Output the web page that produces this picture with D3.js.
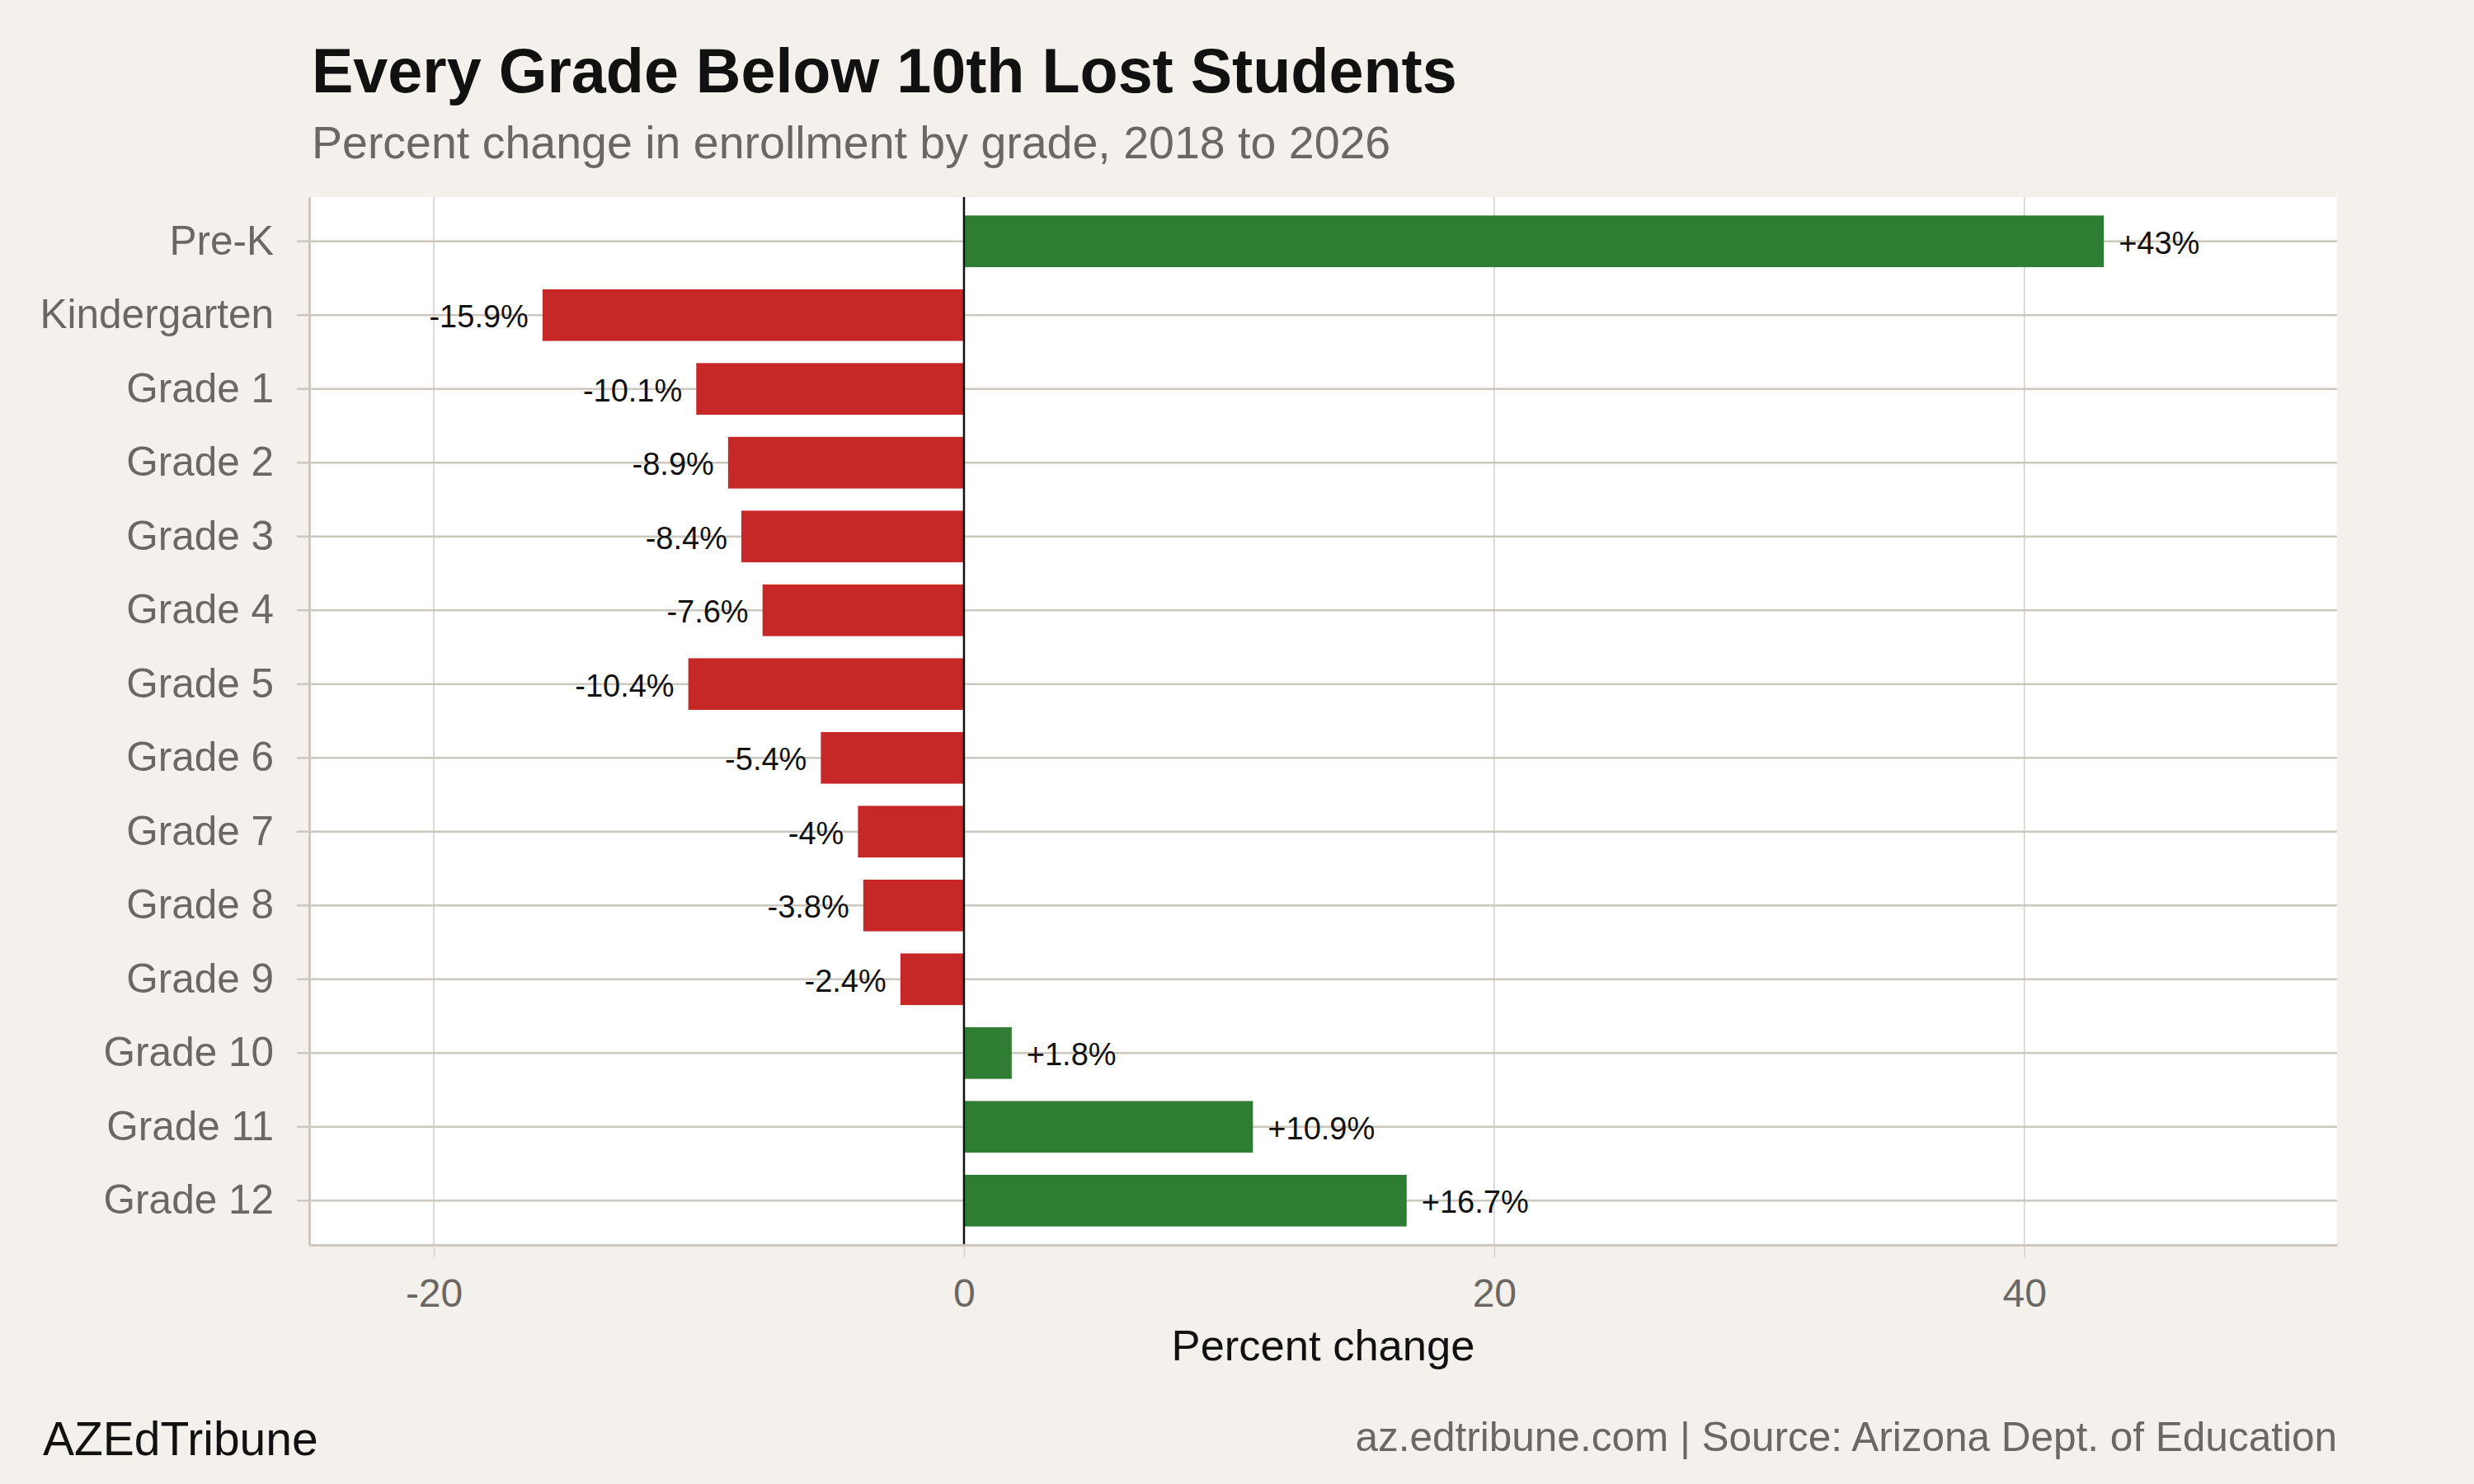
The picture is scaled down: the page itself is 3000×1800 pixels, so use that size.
<!DOCTYPE html>
<html>
<head>
<meta charset="utf-8">
<script src="https://cdn.jsdelivr.net/npm/d3@7"></script>
<style>
  body { margin: 0; background: #f4f1ec; }
  text { font-family: "Liberation Sans", Arial, Helvetica, sans-serif; }
</style>
</head>
<body>
<div id="chart"></div>
<script>
// grades, top to bottom
var grades = ["Pre-K", "Kindergarten", "Grade 1", "Grade 2", "Grade 3", "Grade 4",
              "Grade 5", "Grade 6", "Grade 7", "Grade 8", "Grade 9", "Grade 10",
              "Grade 11", "Grade 12"];
// percent change 2018 -> 2026
var pctChange = [43, -15.9, -10.1, -8.9, -8.4, -7.6, -10.4, -5.4, -4, -3.8, -2.4, 1.8, 10.9, 16.7];
var xTicks = [-20, 0, 20, 40];

var W = 3000, H = 1800;
var margin = { left: 375, right: 166, top: 239, bottom: 290 };

var svg = d3.select("#chart")
    .append("svg")
    .attr("width", W)
    .attr("height", H);

svg.append("rect")
    .attr("width", W)
    .attr("height", H)
    .attr("fill", "#f4f1ec");

var x = d3.scaleLinear()
    .domain([-24.7, 51.8])
    .range([margin.left, W - margin.right]);

var y = d3.scaleBand()
    .domain(grades)
    .range([margin.top, H - margin.bottom])
    .paddingInner(0.3)
    .paddingOuter(0.25);

var bottom = H - margin.bottom;

// panel
svg.append("rect")
    .attr("x", margin.left)
    .attr("y", margin.top)
    .attr("width", W - margin.left - margin.right)
    .attr("height", bottom - margin.top)
    .attr("fill", "#ffffff");

// vertical grid
svg.append("g")
    .selectAll("line")
    .data(xTicks)
    .join("line")
    .attr("x1", d => x(d)).attr("x2", d => x(d))
    .attr("y1", margin.top).attr("y2", bottom)
    .attr("stroke", "#d3cfc9")
    .attr("stroke-width", 1.5);

// horizontal grid
svg.append("g")
    .selectAll("line")
    .data(grades)
    .join("line")
    .attr("x1", margin.left).attr("x2", W - margin.right)
    .attr("y1", d => y(d) + y.bandwidth() / 2)
    .attr("y2", d => y(d) + y.bandwidth() / 2)
    .attr("stroke", "#cdc7be")
    .attr("stroke-width", 2.5);

var rows = grades.map((g, i) => ({ grade: g, v: pctChange[i] }));

// bars
svg.append("g")
    .selectAll("rect")
    .data(rows)
    .join("rect")
    .attr("x", d => x(Math.min(0, d.v)))
    .attr("width", d => Math.abs(x(d.v) - x(0)))
    .attr("y", d => y(d.grade))
    .attr("height", y.bandwidth())
    .attr("fill", d => d.v > 0 ? "#2e7d32" : "#c62828");

// value labels
svg.append("g")
    .selectAll("text")
    .data(rows)
    .join("text")
    .attr("x", d => d.v > 0 ? x(d.v) + 18 : x(d.v) - 17)
    .attr("y", d => y(d.grade) + y.bandwidth() / 2 + 2)
    .attr("dominant-baseline", "central")
    .attr("text-anchor", d => d.v > 0 ? "start" : "end")
    .attr("font-size", 38)
    .attr("fill", "#111")
    .text(d => (d.v > 0 ? "+" : "") + d.v + "%");

// zero line
svg.append("line")
    .attr("x1", x(0)).attr("x2", x(0))
    .attr("y1", margin.top).attr("y2", bottom)
    .attr("stroke", "#111")
    .attr("stroke-width", 2.5);

// axes
var xAxis = svg.append("g")
    .attr("transform", "translate(0," + bottom + ")")
    .call(d3.axisBottom(x).tickValues(xTicks).tickSizeInner(15).tickSizeOuter(0)
        .tickPadding(26).tickFormat(d3.format("d")));
xAxis.select(".domain").attr("stroke", "#cdc7be").attr("stroke-width", 3);
xAxis.selectAll(".tick line").attr("stroke", "#d3cfc9").attr("stroke-width", 1.5);
xAxis.selectAll(".tick text")
    .attr("font-size", 48)
    .attr("fill", "#6b6763")
    .text(d => d < 0 ? "-" + Math.abs(d) : d);

var yAxis = svg.append("g")
    .attr("transform", "translate(" + margin.left + ",0)")
    .call(d3.axisLeft(y).tickSizeInner(15).tickSizeOuter(0).tickPadding(28));
yAxis.select(".domain").attr("stroke", "#cdc7be").attr("stroke-width", 3);
yAxis.selectAll(".tick line").attr("stroke", "#cdc7be").attr("stroke-width", 2.5);
yAxis.selectAll(".tick text")
    .attr("font-size", 49.5)
    .attr("fill", "#6b6763");

// titles
svg.append("text")
    .attr("x", 378).attr("y", 112)
    .attr("font-size", 75.5)
    .attr("font-weight", "bold")
    .attr("fill", "#111")
    .text("Every Grade Below 10th Lost Students");

svg.append("text")
    .attr("x", 378).attr("y", 192)
    .attr("font-size", 55.5)
    .attr("fill", "#6b6763")
    .text("Percent change in enrollment by grade, 2018 to 2026");

svg.append("text")
    .attr("x", (margin.left + W - margin.right) / 2).attr("y", 1650)
    .attr("text-anchor", "middle")
    .attr("font-size", 52.5)
    .attr("fill", "#111")
    .text("Percent change");

// footer
svg.append("text")
    .attr("x", 52).attr("y", 1765)
    .attr("font-size", 57)
    .attr("fill", "#111")
    .text("AZEdTribune");

svg.append("text")
    .attr("x", W - margin.right).attr("y", 1760)
    .attr("text-anchor", "end")
    .attr("font-size", 49.5)
    .attr("fill", "#6b6763")
    .text("az.edtribune.com | Source: Arizona Dept. of Education");
</script>
</body>
</html>
